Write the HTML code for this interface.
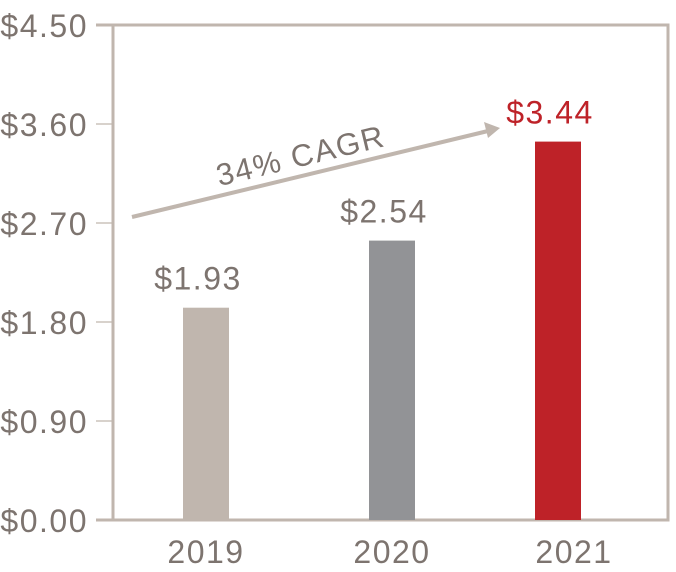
<!DOCTYPE html>
<html><head><meta charset="utf-8"><style>
html,body{margin:0;padding:0;background:#fff;}
svg text{font-family:"Liberation Sans",sans-serif;}
</style></head><body>
<svg id="chart" width="676" height="567" viewBox="0 0 676 567" xmlns="http://www.w3.org/2000/svg">
<g id="axes"></g>
<g id="bars"></g>
<g id="labels"></g>
<g>
<line x1="132" y1="217" x2="488" y2="131" stroke="#c0b6ae" stroke-width="4"/>
<polygon points="500,128 484,122 488,138" fill="#c0b6ae"/>
<text x="303" y="166" transform="rotate(-13.6 303 166)" text-anchor="middle" font-size="31" letter-spacing="1.5" fill="#7d746f">34% CAGR</text>
</g>
</svg>
<script>
const categories=["2019","2020","2021"];
const values=[1.93,2.54,3.44];
const valueLabels=["$1.93","$2.54","$3.44"];
const colors=["#c0b6ae","#929396","#be2228"];
const labelColors=["#7d746f","#7d746f","#be2228"];
const yTicks=[0,0.9,1.8,2.7,3.6,4.5];
const yTickLabels=["$0.00","$0.90","$1.80","$2.70","$3.60","$4.50"];
const NS="http://www.w3.org/2000/svg";
const L=113,R=668,T=25,B=520,yMax=4.5;
const y=v=>B-(v/yMax)*(B-T);
const x=i=>206+i*176;
function mk(t,a,p){const e=document.createElementNS(NS,t);for(const k in a)e.setAttribute(k,a[k]);p.appendChild(e);return e;}
const ax=document.getElementById('axes'),bg=document.getElementById('bars'),lg=document.getElementById('labels');
const frame=mk('rect',{x:L,y:T,width:R-L,height:B-T,fill:'none',stroke:'#c0b6ae','stroke-width':3},ax);


yTicks.forEach((v,i)=>{
 const tk=mk('line',{x1:96,x2:L,y1:y(v),y2:y(v),stroke:'#c0b6ae','stroke-width':(i==0||i==yTicks.length-1)?3:1.2},ax);
 
 
 const t=mk('text',{x:88,y:y(v)+12,'text-anchor':'end','font-size':32,'letter-spacing':1.5,fill:'#7d746f'},ax);
 t.textContent=yTickLabels[i];
 
 
});
categories.forEach((c,i)=>{
 const cx=x(i)+(i==1?10:0);
 const b=mk('rect',{x:cx-23,y:y(values[i]),width:46,height:B-y(values[i]),fill:colors[i]},bg);
 
 
 const vl=mk('text',{x:cx-8,y:y(values[i])-18,'text-anchor':'middle','font-size':32,'letter-spacing':1.5,fill:labelColors[i]},lg);
 vl.textContent=valueLabels[i];
 
 
 const xl=mk('text',{x:cx+(i==2?16:0),y:563,'text-anchor':'middle','font-size':32,'letter-spacing':1.5,fill:'#7d746f'},lg);
 xl.textContent=c;
 
 
});
</script>
</body></html>
